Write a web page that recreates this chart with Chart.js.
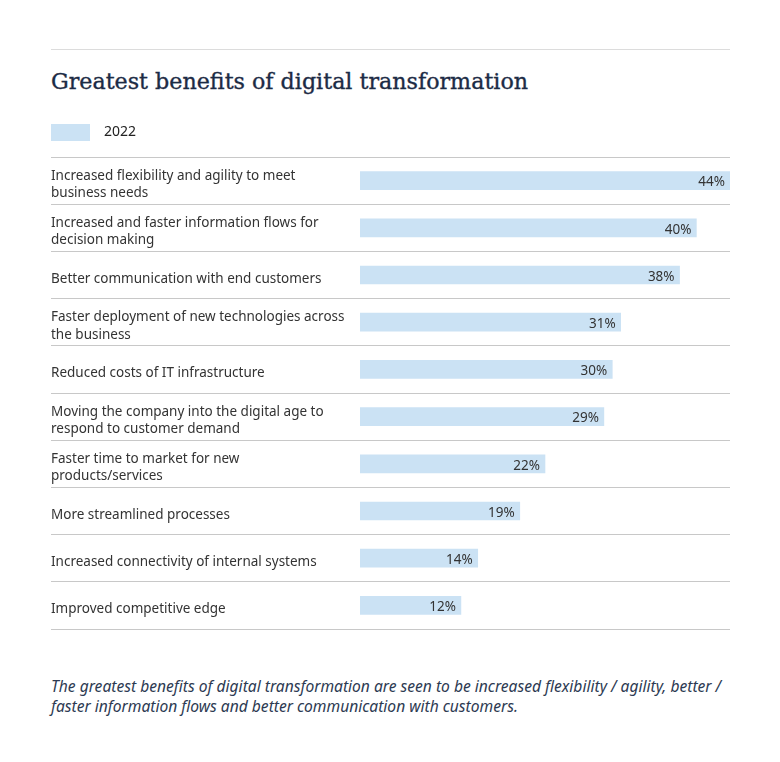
<!DOCTYPE html>
<html>
<head>
<meta charset="utf-8">
<script src="https://cdn.jsdelivr.net/npm/chart.js@4"></script>
<style>
  body { margin: 0; background: #fff; width: 780px; height: 762px; position: relative; font-family: "Noto Sans", sans-serif; }
  .rule { position: absolute; left: 51px; top: 49px; width: 679px; height: 1px; background: #dcdcdc; }
  h1 { position: absolute; left: 51px; top: 70px; margin: 0; font: 400 22.2px/1 "DejaVu Serif", serif; color: #1c2b45; white-space: nowrap; -webkit-text-stroke: 0.35px #1c2b45; }
  #wrap { position: absolute; left: 51px; top: 124px; width: 679px; height: 507px; }
  .note { position: absolute; left: 51px; top: 676px; margin: 0; font: italic 15.6px/20px "Noto Sans", sans-serif; color: #2d3a52; white-space: nowrap; }
</style>
</head>
<body>
<div class="rule"></div>
<h1>Greatest benefits of digital transformation</h1>
<div id="wrap"><canvas id="chart"></canvas></div>
<p class="note">The greatest benefits of digital transformation are seen to be increased flexibility / agility, better /<br>faster information flows and better communication with customers.</p>
<script>
const categories = [
  ['Increased flexibility and agility to meet', 'business needs'],
  ['Increased and faster information flows for', 'decision making'],
  ['Better communication with end customers'],
  ['Faster deployment of new technologies across', 'the business'],
  ['Reduced costs of IT infrastructure'],
  ['Moving the company into the digital age to', 'respond to customer demand'],
  ['Faster time to market for new', 'products/services'],
  ['More streamlined processes'],
  ['Increased connectivity of internal systems'],
  ['Improved competitive edge']
];
const seriesName = '2022';
const values2022 = [44, 40, 38, 31, 30, 29, 22, 19, 14, 12];

Chart.defaults.font.family = '"Noto Sans", sans-serif';

// percentage text at the end of each bar
const valueLabels = {
  id: 'valueLabels',
  afterDatasetsDraw(chart) {
    const ctx = chart.ctx;
    const meta = chart.getDatasetMeta(0);
    ctx.save();
    ctx.font = '13.5px "Noto Sans", sans-serif';
    ctx.fillStyle = '#333';
    ctx.textAlign = 'right';
    ctx.textBaseline = 'middle';
    meta.data.forEach((bar, i) => {
      ctx.fillText(values2022[i] + '%', bar.x - 5, bar.y + 2);
    });
    ctx.restore();
  }
};

new Chart(document.getElementById('chart'), {
  type: 'bar',
  data: {
    labels: categories,
    datasets: [{
      label: seriesName,
      data: values2022,
      backgroundColor: '#cbe2f4',
      barThickness: 18
    }]
  },
  options: {
    indexAxis: 'y',
    responsive: true,
    maintainAspectRatio: false,
    animation: false,
    layout: { padding: { bottom: 2 } },
    plugins: {
      legend: {
        align: 'start',
        labels: {
          boxWidth: 39,
          boxHeight: 17,
          padding: 0,
          color: '#222',
          font: { size: 14 },
          generateLabels: (chart) => Chart.defaults.plugins.legend.labels.generateLabels(chart)
            .map(l => ({ ...l, text: '\u2002' + l.text }))
        }
      },
      tooltip: { enabled: false }
    },
    scales: {
      x: {
        position: 'top',
        min: 0,
        max: 44,
        ticks: { display: false },
        grid: { display: false, drawTicks: true, tickLength: 6 },
        border: { display: false }
      },
      y: {
        grid: { offset: true, color: '#c8c8c8', drawTicks: true, tickLength: 309 },
        border: { display: false },
        ticks: { crossAlign: 'far', padding: 0, labelOffset: 4, color: '#333', font: { size: 13.5, lineHeight: 1.27 } },
        afterFit: (s) => { s.width = 309; s.paddingTop = 0; s.paddingBottom = 0; }
      }
    }
  },
  plugins: [valueLabels]
});
</script>
</body>
</html>
